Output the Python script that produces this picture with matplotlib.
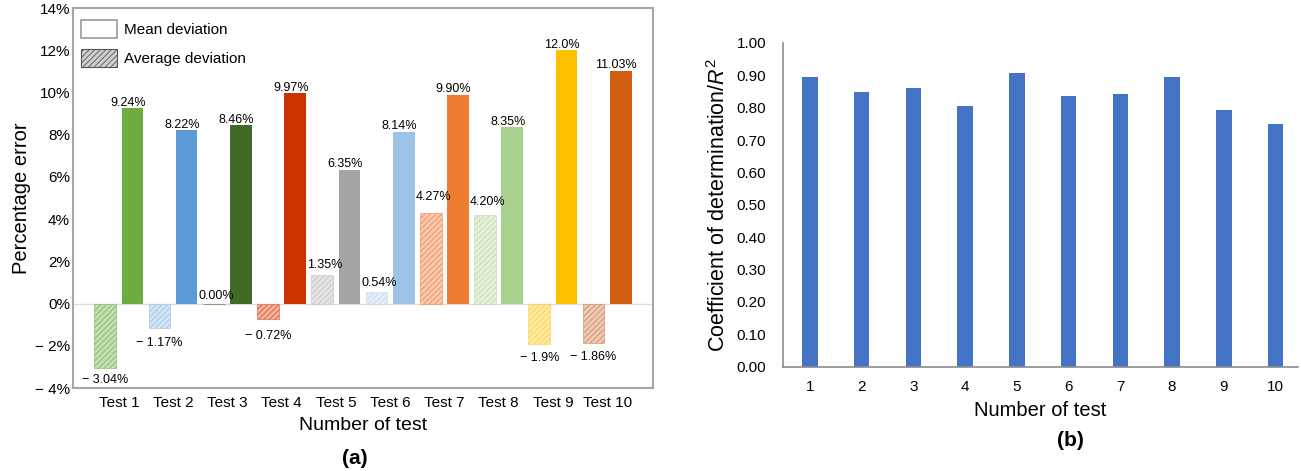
import matplotlib
matplotlib.use("Agg")
import matplotlib.pyplot as plt
import numpy as np
from matplotlib.colors import to_rgb
from matplotlib.patches import Patch

plt.rcParams["font.family"] = ["Liberation Sans", "DejaVu Sans"]
plt.rcParams["mathtext.fontset"] = "custom"
plt.rcParams["mathtext.rm"] = "Liberation Sans"
plt.rcParams["mathtext.it"] = "Liberation Sans:italic"
plt.rcParams["hatch.linewidth"] = 0.6

# data
tests = ["Test 1", "Test 2", "Test 3", "Test 4", "Test 5",
         "Test 6", "Test 7", "Test 8", "Test 9", "Test 10"]
mean_dev = [9.24, 8.22, 8.46, 9.97, 6.35, 8.14, 9.90, 8.35, 12.0, 11.03]
avg_dev = [-3.04, -1.17, 0.00, -0.72, 1.35, 0.54, 4.27, 4.20, -1.9, -1.86]
mean_labels = ["9.24%", "8.22%", "8.46%", "9.97%", "6.35%",
               "8.14%", "9.90%", "8.35%", "12.0%", "11.03%"]
avg_labels = ["\u2212 3.04%", "\u2212 1.17%", "0.00%", "\u2212 0.72%", "1.35%",
              "0.54%", "4.27%", "4.20%", "\u2212 1.9%", "\u2212 1.86%"]
solid_colors = ["#6fab3f", "#5b9bd5", "#3f6a28", "#cc3300", "#a5a5a5",
                "#9dc3e6", "#ed7d31", "#a9d18e", "#ffc000", "#d35e0f"]
hatch_colors = ["#7fb85a", "#9dc3e6", "#3f6a28", "#e0562a", "#c4c4c4",
                "#c5d9ee", "#f08a4e", "#c2dcae", "#ffcf3d", "#d58a5e"]

test_no = [1, 2, 3, 4, 5, 6, 7, 8, 9, 10]
r2 = [0.895, 0.848, 0.862, 0.806, 0.907, 0.835, 0.843, 0.895, 0.792, 0.751]

yticks_a = [-4, -2, 0, 2, 4, 6, 8, 10, 12, 14]
yticks_b = [0.0, 0.1, 0.2, 0.3, 0.4, 0.5, 0.6, 0.7, 0.8, 0.9, 1.0]

# label nudges (points) where the original moved labels by hand
avg_lift = {6: 6.5, 7: 4, 4: 2, 5: 1, 3: 2, 0: -1.5}


def tint(c, amount):
    r, g, b = to_rgb(c)
    return (r + (1 - r) * amount, g + (1 - g) * amount, b + (1 - b) * amount)


fig = plt.figure(figsize=(13.01, 4.71), dpi=100)
frame_col = "#a6a6a6"

# ---------- (a) ----------
ax = fig.add_axes([72.7 / 1301, 1 - 388 / 471, 580 / 1301, 380 / 471])
x = np.arange(1, len(tests) + 1)
w = 0.4
off = 0.25
ax.axhline(0, color="#dcdcdc", lw=1, zorder=0)
for i in range(len(tests)):
    ax.bar(x[i] - off, avg_dev[i], w, facecolor=tint(hatch_colors[i], 0.55),
           edgecolor=hatch_colors[i], hatch="//////", lw=0.4, zorder=2)
    ax.bar(x[i] + off, mean_dev[i], w, color=solid_colors[i], lw=0, zorder=2)

    ax.annotate(mean_labels[i], (x[i] + off - 0.08, mean_dev[i]),
                xytext=(0, -0.5), textcoords="offset points",
                ha="center", va="bottom", fontsize=9)
    v = avg_dev[i]
    if v >= 0:
        ax.annotate(avg_labels[i], (x[i] - off + 0.05, v),
                    xytext=(0, 1 + avg_lift.get(i, 0)), textcoords="offset points",
                    ha="center", va="bottom", fontsize=9)
    else:
        ax.annotate(avg_labels[i], (x[i] - off, v),
                    xytext=(0, -6 - avg_lift.get(i, 0)), textcoords="offset points",
                    ha="center", va="top", fontsize=9)

ax.set_xlim(0.15, 10.84)
ax.set_ylim(-4, 14)
ax.set_yticks(yticks_a)
ax.set_yticklabels([("\u2212 %d%%" % -t) if t < 0 else "%d%%" % t for t in yticks_a])
ax.set_xticks(x)
ax.set_xticklabels(tests)
ax.tick_params(length=0, labelsize=11)
ax.tick_params(axis="x", pad=6)
ax.tick_params(axis="y", pad=2)
for s in ax.spines.values():
    s.set_color(frame_col)
    s.set_linewidth(1.5)
ax.set_ylabel("Percentage error", fontsize=14.5, labelpad=3)
ax.set_xlabel("Number of test", fontsize=14, labelpad=5)

handles = [Patch(facecolor="white", edgecolor="#9a9a9a", lw=1.2),
           Patch(facecolor="#cfcfcf", edgecolor="#555555", hatch="//////", lw=0.8)]
ax.legend(handles, ["Mean deviation", "Average deviation"], loc="upper left",
          bbox_to_anchor=(-0.007, 1.0), frameon=False, fontsize=11,
          handlelength=2.35, handleheight=1.45, handletextpad=0.45,
          labelspacing=0.7, borderaxespad=0.4)

fig.text(355 / 1301, 1 - 458 / 471, "(a)", ha="center", va="center",
         fontsize=15, fontweight="bold")

# ---------- (b) ----------
bx = fig.add_axes([783 / 1301, 1 - 366.5 / 471, 515 / 1301, 323.5 / 471])
bx.bar(test_no, r2, 0.3, color="#4472c4", lw=0, zorder=2)
bx.set_xlim(0.48, 10.435)
bx.set_ylim(0, 1.0)
bx.set_yticks(yticks_b)
bx.set_yticklabels(["%.2f" % t for t in yticks_b])
bx.set_xticks(test_no)
bx.tick_params(length=0, labelsize=11)
bx.tick_params(axis="x", pad=10)
bx.tick_params(axis="y", pad=12)
for k in ["top", "right"]:
    bx.spines[k].set_visible(False)
for k in ["left", "bottom"]:
    bx.spines[k].set_color("#8c8c8c")
    bx.spines[k].set_linewidth(1.2)
bx.set_ylabel("Coefficient of determination/$R^2$", fontsize=15.5, labelpad=5)
bx.set_xlabel("Number of test", fontsize=14.5, labelpad=5)

fig.text(1070 / 1301, 1 - 440 / 471, "(b)", ha="center", va="center",
         fontsize=15, fontweight="bold")

fig.savefig("out.png", dpi=100)
